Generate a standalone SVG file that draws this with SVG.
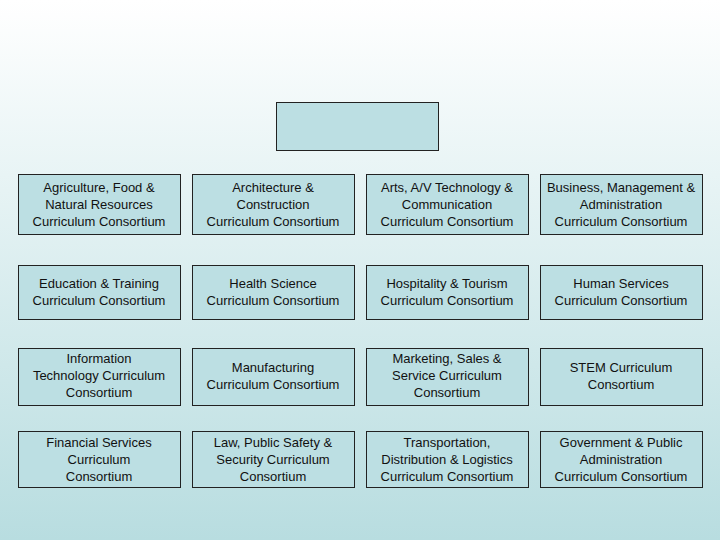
<svg xmlns="http://www.w3.org/2000/svg" width="720" height="540" viewBox="0 0 720 540">
<defs>
<linearGradient id="bg" x1="0" y1="0" x2="0" y2="1">
<stop offset="0" stop-color="#ffffff"/>
<stop offset="1" stop-color="#b8dde0"/>
</linearGradient>
<style>
.b{fill:#bcdfe3;stroke:#222;stroke-width:1}
text{font-family:"Liberation Sans",Arial,sans-serif;font-size:13px;fill:#111;text-anchor:middle}
</style>
</defs>
<rect width="720" height="540" fill="url(#bg)"/>
<g id="top"><rect class="b" x="276.5" y="102.5" width="162" height="48"/></g>
<g id="connectors"></g>
<g id="n1"><rect class="b" x="18.5" y="174.5" width="162" height="60"/><text x="99" y="192">Agriculture, Food &amp;</text><text x="99" y="209">Natural Resources</text><text x="99" y="226">Curriculum Consortium</text></g>
<g id="n2"><rect class="b" x="192.5" y="174.5" width="162" height="60"/><text x="273" y="192">Architecture &amp;</text><text x="273" y="209">Construction</text><text x="273" y="226">Curriculum Consortium</text></g>
<g id="n3"><rect class="b" x="366.5" y="174.5" width="162" height="60"/><text x="447" y="192">Arts, A/V Technology &amp;</text><text x="447" y="209">Communication</text><text x="447" y="226">Curriculum Consortium</text></g>
<g id="n4"><rect class="b" x="540.5" y="174.5" width="162" height="60"/><text x="621" y="192">Business, Management &amp;</text><text x="621" y="209">Administration</text><text x="621" y="226">Curriculum Consortium</text></g>
<g id="n5"><rect class="b" x="18.5" y="265.5" width="162" height="54"/><text x="99" y="288">Education &amp; Training</text><text x="99" y="305">Curriculum Consortium</text></g>
<g id="n6"><rect class="b" x="192.5" y="265.5" width="162" height="54"/><text x="273" y="288">Health Science</text><text x="273" y="305">Curriculum Consortium</text></g>
<g id="n7"><rect class="b" x="366.5" y="265.5" width="162" height="54"/><text x="447" y="288">Hospitality &amp;  Tourism</text><text x="447" y="305">Curriculum Consortium</text></g>
<g id="n8"><rect class="b" x="540.5" y="265.5" width="162" height="54"/><text x="621" y="288">Human Services</text><text x="621" y="305">Curriculum Consortium</text></g>
<g id="n9"><rect class="b" x="18.5" y="348.5" width="162" height="57"/><text x="99" y="363">Information</text><text x="99" y="380">Technology Curriculum</text><text x="99" y="397">Consortium</text></g>
<g id="n10"><rect class="b" x="192.5" y="348.5" width="162" height="57"/><text x="273" y="372">Manufacturing</text><text x="273" y="389">Curriculum Consortium</text></g>
<g id="n11"><rect class="b" x="366.5" y="348.5" width="162" height="57"/><text x="447" y="363">Marketing, Sales &amp;</text><text x="447" y="380">Service Curriculum</text><text x="447" y="397">Consortium</text></g>
<g id="n12"><rect class="b" x="540.5" y="348.5" width="162" height="57"/><text x="621" y="372">STEM Curriculum</text><text x="621" y="389">Consortium</text></g>
<g id="n13"><rect class="b" x="18.5" y="431.5" width="162" height="56"/><text x="99" y="447">Financial Services</text><text x="99" y="464">Curriculum</text><text x="99" y="481">Consortium</text></g>
<g id="n14"><rect class="b" x="192.5" y="431.5" width="162" height="56"/><text x="273" y="447">Law, Public Safety &amp;</text><text x="273" y="464">Security Curriculum</text><text x="273" y="481">Consortium</text></g>
<g id="n15"><rect class="b" x="366.5" y="431.5" width="162" height="56"/><text x="447" y="447">Transportation,</text><text x="447" y="464">Distribution &amp; Logistics</text><text x="447" y="481">Curriculum Consortium</text></g>
<g id="n16"><rect class="b" x="540.5" y="431.5" width="162" height="56"/><text x="621" y="447">Government &amp; Public</text><text x="621" y="464">Administration</text><text x="621" y="481">Curriculum Consortium</text></g>
</svg>
